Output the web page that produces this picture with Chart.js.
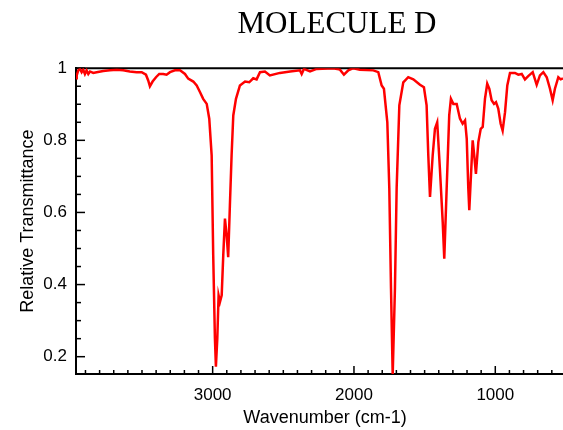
<!DOCTYPE html>
<html>
<head>
<meta charset="utf-8">
<script src="https://cdn.jsdelivr.net/npm/chart.js@4.4.0/dist/chart.umd.min.js"></script>
<style>
  html, body { margin: 0; padding: 0; background: #fff; overflow: hidden; }
  #wrap { width: 563px; height: 430px; overflow: hidden; position: relative; }
</style>
</head>
<body>
<div id="wrap"><canvas id="irChart" width="674" height="430"></canvas></div>
<script>
// spectrum: wavenumber (cm-1) and relative transmittance
var wavenumbers = [3967, 3962, 3951, 3939, 3927, 3916, 3904, 3892, 3880, 3868, 3845, 3821, 3774, 3727, 3679, 3633, 3586, 3538, 3502, 3472,
    3456, 3444, 3425, 3401, 3378, 3350, 3326, 3302, 3267, 3231, 3196, 3173, 3137, 3113, 3090, 3067, 3042, 3024, 3007, 2996,
    2984, 2977, 2967, 2958, 2948, 2936, 2925, 2913, 2901, 2890, 2878, 2866, 2854, 2835, 2807, 2771, 2741, 2713, 2689, 2665,
    2630, 2595, 2524, 2452, 2382, 2370, 2354, 2311, 2264, 2147, 2099, 2071, 2040, 2005, 1958, 1863, 1828, 1804, 1788, 1764,
    1750, 1738, 1726, 1710, 1698, 1679, 1651, 1616, 1580, 1533, 1505, 1486, 1474, 1462, 1443, 1427, 1411, 1392, 1372, 1361,
    1344, 1326, 1314, 1297, 1273, 1250, 1231, 1214, 1202, 1191, 1184, 1172, 1160, 1149, 1137, 1120, 1103, 1089, 1073, 1057,
    1042, 1026, 1009, 995, 979, 962, 948, 931, 915, 896, 861, 837, 813, 790, 767, 735, 707, 684, 660, 636,
    613, 594, 578, 554, 537, 521]

var transmittance = [0.972, 0.980, 0.994, 0.998, 0.989, 0.996, 0.984, 0.994, 0.984, 0.991, 0.987, 0.989, 0.992, 0.994, 0.996, 0.994, 0.991, 0.989, 0.989, 0.982,
    0.966, 0.950, 0.963, 0.975, 0.984, 0.984, 0.982, 0.989, 0.994, 0.994, 0.984, 0.971, 0.963, 0.952, 0.934, 0.915, 0.901, 0.860, 0.758, 0.481,
    0.251, 0.172, 0.251, 0.370, 0.352, 0.370, 0.481, 0.583, 0.537, 0.476, 0.620, 0.758, 0.869, 0.915, 0.952, 0.963, 0.961, 0.972, 0.969, 0.989,
    0.991, 0.980, 0.987, 0.991, 0.994, 0.984, 0.998, 0.991, 0.998, 1.000, 0.996, 0.982, 0.994, 1.000, 0.996, 0.994, 0.989, 0.952, 0.943, 0.850,
    0.667, 0.390, 0.149, 0.390, 0.667, 0.897, 0.961, 0.975, 0.969, 0.954, 0.947, 0.897, 0.758, 0.643, 0.758, 0.832, 0.850, 0.722, 0.573, 0.472,
    0.667, 0.869, 0.915, 0.901, 0.901, 0.860, 0.846, 0.855, 0.804, 0.667, 0.606, 0.703, 0.800, 0.758, 0.707, 0.795, 0.832, 0.837, 0.915, 0.957,
    0.943, 0.911, 0.901, 0.906, 0.888, 0.846, 0.827, 0.878, 0.952, 0.987, 0.987, 0.982, 0.984, 0.969, 0.978, 0.989, 0.954, 0.980, 0.989, 0.975,
    0.943, 0.911, 0.943, 0.975, 0.969, 0.972]

var xMajorTicks = [1000, 2000, 3000]
var yMajorTicks = [0.2, 0.4, 0.6, 0.8, 1]

var points = []
for (var i = 0; i < wavenumbers.length; i++) {
    points.push({x: wavenumbers[i], y: transmittance[i]})
}

// ticks point into the plot, plus the black line along the top
var innerTicks = {
    id: 'innerTicks',
    beforeDatasetsDraw: function(chart) {
        var ctx = chart.ctx
        var area = chart.chartArea
        var xs = chart.scales.x
        var ys = chart.scales.y
        ctx.save()
        ctx.strokeStyle = '#000'
        ctx.lineWidth = 2
        ctx.beginPath()
        ctx.moveTo(area.left, area.top)
        ctx.lineTo(area.right, area.top)
        ctx.stroke()

        ctx.lineWidth = 1.5
        for (var v = 500; v <= 3900; v += 100) {
            var px = xs.getPixelForValue(v)
            var len = xMajorTicks.indexOf(v) >= 0 ? 8 : 4
            ctx.beginPath()
            ctx.moveTo(px, area.bottom)
            ctx.lineTo(px, area.bottom - len)
            ctx.stroke()
        }
        for (var k = 4; k <= 20; k++) {
            var py = ys.getPixelForValue(k * 0.05)
            var major = k % 4 == 0
            ctx.beginPath()
            ctx.moveTo(area.left, py)
            ctx.lineTo(area.left + (major ? 9 : 5), py)
            ctx.stroke()
        }
        ctx.restore()
    }
}

new Chart(document.getElementById('irChart').getContext('2d'), {
    type: 'line',
    data: {
        datasets: [{
            label: 'Molecule D',
            data: points,
            borderColor: '#ff0000',
            borderWidth: 2.5,
            pointRadius: 0,
            tension: 0,
            fill: false
        }]
    },
    plugins: [innerTicks],
    options: {
        responsive: false,
        animation: false,
        devicePixelRatio: 1,
        layout: {padding: 0},
        plugins: {
            legend: {display: false},
            tooltip: {enabled: false},
            title: {
                display: true,
                text: 'MOLECULE D',
                color: '#000',
                font: {family: '"Liberation Serif", "Times New Roman", serif', size: 31, weight: 'normal'},
                padding: {top: 6, bottom: 25}
            }
        },
        scales: {
            x: {
                type: 'linear',
                reverse: true,
                min: 443,
                max: 3967,
                afterFit: function(scale) { scale.height = 56 },
                afterBuildTicks: function(scale) {
                    scale.ticks = xMajorTicks.map(function(v) { return {value: v} })
                },
                border: {display: true, color: '#000', width: 2},
                grid: {drawOnChartArea: false, drawTicks: false},
                ticks: {
                    autoSkip: false,
                    maxRotation: 0,
                    padding: 11,
                    color: '#000',
                    font: {family: '"Liberation Sans", Arial, sans-serif', size: 17},
                    callback: function(value) { return String(value) }
                },
                title: {
                    display: true,
                    text: 'Wavenumber (cm-1)',
                    color: '#000',
                    font: {family: '"Liberation Sans", Arial, sans-serif', size: 18},
                    padding: {top: 0, bottom: 1}
                }
            },
            y: {
                type: 'linear',
                min: 0.152,
                max: 1,
                afterFit: function(scale) { scale.width = 76 },
                afterBuildTicks: function(scale) {
                    scale.ticks = yMajorTicks.map(function(v) { return {value: v} })
                },
                border: {display: true, color: '#000', width: 2},
                grid: {drawOnChartArea: false, drawTicks: false},
                ticks: {
                    autoSkip: false,
                    padding: 9,
                    color: '#000',
                    font: {family: '"Liberation Sans", Arial, sans-serif', size: 17},
                    callback: function(value) { return String(value) }
                },
                title: {
                    display: true,
                    text: 'Relative Transmittance',
                    color: '#000',
                    font: {family: '"Liberation Sans", Arial, sans-serif', size: 18},
                    padding: {top: 17, bottom: 0}
                }
            },
            // empty right-hand strip so the plot runs past the cropped edge
            spare: {
                type: 'linear',
                position: 'right',
                afterFit: function(scale) { scale.width = 100 },
                border: {display: false},
                grid: {display: false},
                ticks: {display: false}
            }
        }
    }
});
</script>
</body>
</html>
